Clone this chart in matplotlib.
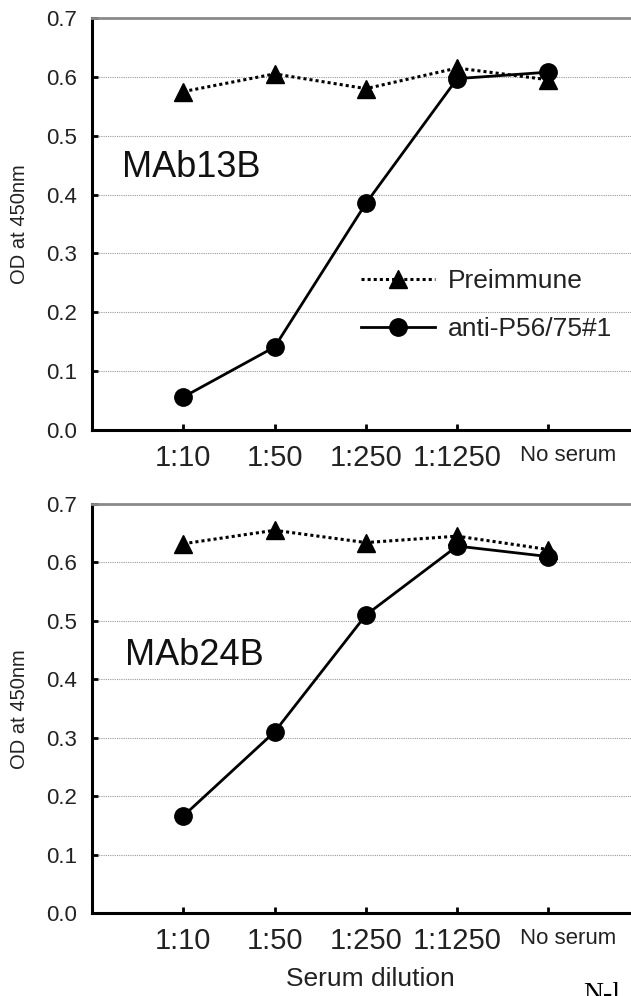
import numpy as np
import matplotlib.pyplot as plt
from matplotlib.transforms import ScaledTranslation

plt.rcParams['font.family'] = ['Liberation Sans', 'DejaVu Sans']

dilutions = ['1:10', '1:50', '1:250', '1:1250', 'No serum']
pre_13b = [0.575, 0.605, 0.580, 0.615, 0.595]
anti_13b = [0.056, 0.141, 0.385, 0.597, 0.608]
pre_24b = [0.632, 0.655, 0.634, 0.645, 0.622]
anti_24b = [0.166, 0.310, 0.510, 0.628, 0.610]
yticks = [0.0, 0.1, 0.2, 0.3, 0.4, 0.5, 0.6, 0.7]

W, H = 631, 996
fig = plt.figure(figsize=(W / 100, H / 100), dpi=100)
txt = '#222222'

def panel(top, bottom, pre, anti, name, name_y, name_x, legend=False):
    ax = fig.add_axes([92 / W, 1 - bottom / H, 6 * 91.3 / W, (bottom - top) / H])
    x = np.arange(1, len(dilutions) + 1)
    ax.plot(x, pre, color='black', lw=2.2, linestyle=(0, (1, 1)),
            marker='^', ms=13, label='Preimmune', zorder=3)
    ax.plot(x, anti, color='black', lw=2.0, linestyle='-',
            marker='o', ms=12.5, label='anti-P56/75#1', zorder=4)
    ax.set_xlim(0, 6)
    ax.set_ylim(0, 0.7)
    ax.set_yticks(yticks)
    ax.set_yticklabels(['%.1f' % v for v in yticks])
    ax.set_xticks(x)
    ax.set_xticklabels(dilutions)
    ax.yaxis.grid(True, color='#999999', linestyle=(0, (1, 1)), lw=0.8)
    ax.set_axisbelow(True)
    for s in ['left', 'bottom']:
        ax.spines[s].set_linewidth(2.2)
        ax.spines[s].set_color('black')
    ax.spines['top'].set_color('#8a8a8a')
    ax.spines['top'].set_linewidth(2.0)
    ax.spines['right'].set_visible(False)
    ax.tick_params(axis='y', direction='in', length=4, width=2, labelsize=16,
                   labelcolor=txt, pad=11)
    ax.tick_params(axis='x', direction='in', length=4, width=2, labelsize=21,
                   labelcolor=txt, pad=10)
    labs = ax.get_xticklabels()
    labs[-1].set_fontsize(16)
    labs[-1].set_transform(labs[-1].get_transform() +
                           ScaledTranslation(0.2, -0.01, fig.dpi_scale_trans))
    ax.text(name_x, name_y, name, fontsize=26, color='#111111', ha='left', va='baseline')
    if legend:
        ax.legend(loc='upper left', bbox_to_anchor=(361 / W, 1 - 269 / H),
                  bbox_transform=fig.transFigure, frameon=False, fontsize=19,
                  handlelength=2.8, handletextpad=0.5, labelspacing=0.9,
                  borderpad=0, borderaxespad=0, labelcolor=txt)
    return ax

panel(18, 430, pre_13b, anti_13b, 'MAb13B', 0.43, 0.33, legend=True)
panel(504, 913, pre_24b, anti_24b, 'MAb24B', 0.425, 0.36)

fig.text(20 / W, 1 - 224 / H, 'OD at 450nm', rotation=90, fontsize=14.5,
         color=txt, ha='center', va='center')
fig.text(20 / W, 1 - 709 / H, 'OD at 450nm', rotation=90, fontsize=14.5,
         color=txt, ha='center', va='center')
fig.text(370 / W, 1 - 979 / H, 'Serum dilution', fontsize=19, color=txt,
         ha='center', va='center')
fig.text(583 / W, 1 - 982 / H, 'N-l', fontsize=20, color='black',
         family='Liberation Serif', ha='left', va='top')

fig.savefig('out.png', dpi=100)
